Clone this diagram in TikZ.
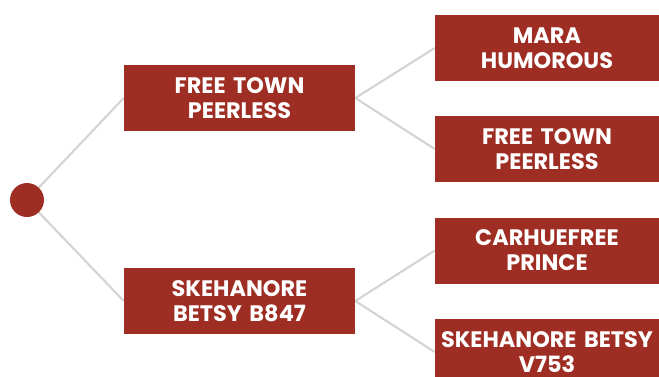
\documentclass[tikz,border=0pt]{standalone}
\usepackage{fontspec}
\setmainfont{Poppins}
\usetikzlibrary{backgrounds}
\definecolor{boxred}{HTML}{9E2E24}
\definecolor{linegrey}{HTML}{D4D4D4}
\begin{document}
\begin{tikzpicture}[x=0.75pt,y=-0.75pt,
  box/.style={fill=boxred,draw=none,text=white,font=\bfseries\fontsize{16.8}{18.75}\selectfont,
    align=center,minimum height=49.5pt,inner sep=0pt,text width=#1},
  box/.default=173.25pt,
  link/.style={draw=linegrey,line width=1.6pt}]
\useasboundingbox (0,0) rectangle (659,376);
\node[circle,fill=boxred,minimum size=25.5pt,inner sep=0pt] (root) at (27,200) {};
\node[box] (a) at (239.5,98) {FREE TOWN\\PEERLESS};
\node[box] (b) at (239.5,301) {SKEHANORE\\BETSY B847};
\node[box=168pt] (a1) at (547,48) {MARA\\HUMOROUS};
\node[box=168pt] (a2) at (547,149) {FREE TOWN\\PEERLESS};
\node[box=168pt] (b1) at (547,250.5) {CARHUEFREE\\PRINCE};
\node[box=168pt] (b2) at (547,352) {SKEHANORE BETSY\\V753};
\begin{scope}[on background layer]
\draw[link] (root.center) -- (a.west);
\draw[link] (root.center) -- (b.west);
\draw[link] (a.east) -- (a1.west);
\draw[link] (a.east) -- (a2.west);
\draw[link] (b.east) -- (b1.west);
\draw[link] (b.east) -- (b2.west);
\end{scope}
\end{tikzpicture}
\end{document}
